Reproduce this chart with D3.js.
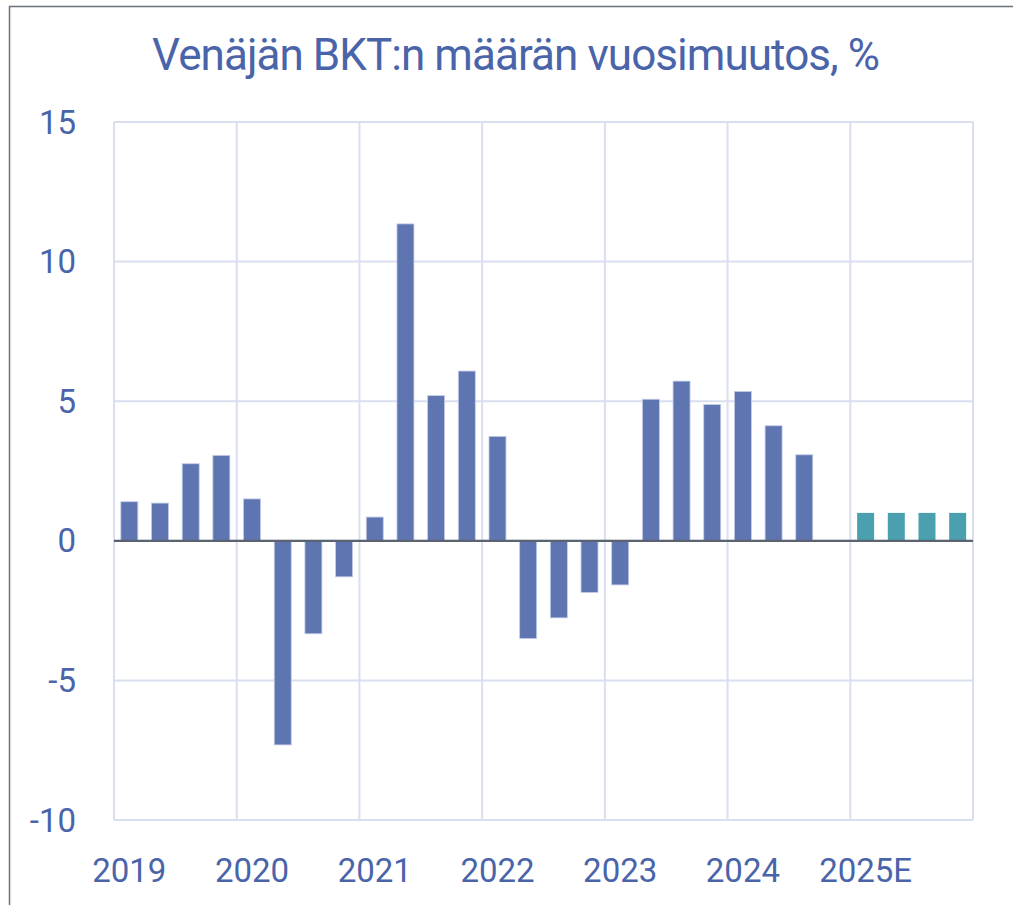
<!DOCTYPE html>
<html>
<head>
<meta charset="utf-8">
<script src="https://cdn.jsdelivr.net/npm/d3@7"></script>
<style>
  html, body { margin: 0; padding: 0; background: #fff; }
  svg { display: block; }
  text { font-family: Roboto, "Liberation Sans", sans-serif; fill: #4a64aa; }
</style>
</head>
<body>
<div id="chart"></div>
<script>
// Data
const title = "Venäjän BKT:n määrän vuosimuutos, %";
const years = ["2019", "2020", "2021", "2022", "2023", "2024", "2025E"];
const quarters = ["Q1", "Q2", "Q3", "Q4"];
const actualValues = [
  1.4, 1.35, 2.76, 3.06,
  1.5, -7.31, -3.33, -1.29,
  0.85, 11.35, 5.2, 6.08,
  3.74, -3.5, -2.76, -1.85,
  -1.58, 5.07, 5.72, 4.88,
  5.35, 4.12, 3.08, null
];
const forecastValues = [1, 1, 1, 1];
const yTicks = [-10, -5, 0, 5, 10, 15];

const w = 1013;
const h = 905;
const margin = { left: 114, right: 40, top: 122, bottom: 85 };

// one key per quarter
const keys = years.flatMap((y) => quarters.map((q) => y + "-" + q));
const bars = keys.map((k, i) => {
  const isForecast = i >= actualValues.length;
  return {
    key: k,
    value: isForecast ? forecastValues[i - actualValues.length] : actualValues[i],
    forecast: isForecast
  };
}).filter((d) => d.value != null);

const svg = d3.select("#chart").append("svg").attr("width", w).attr("height", h);

// Frame (right and bottom edges fall outside the picture)
svg.append("rect")
  .attr("x", 9.5).attr("y", 6.5)
  .attr("width", 1020).attr("height", 920)
  .attr("fill", "none")
  .attr("stroke", "#6b7280")
  .attr("stroke-width", 1.5);

// Scales
const xScale = d3.scaleBand()
  .domain(keys)
  .range([margin.left, w - margin.right])
  .paddingInner(0.446)
  .paddingOuter(0.223);

const yearScale = d3.scaleBand()
  .domain(years)
  .range([margin.left, w - margin.right]);

const yScale = d3.scaleLinear()
  .domain([-10, 15])
  .range([h - margin.bottom, margin.top]);

const gridColor = "#d9dff0";

// Horizontal grid
svg.append("g")
  .selectAll("line")
  .data(yTicks)
  .join("line")
  .attr("x1", margin.left).attr("x2", w - margin.right)
  .attr("y1", (d) => yScale(d)).attr("y2", (d) => yScale(d))
  .attr("stroke", gridColor)
  .attr("stroke-width", 2);

// Vertical grid at year boundaries
const yearEdges = years.map((y) => yearScale(y)).concat([w - margin.right]);
svg.append("g")
  .selectAll("line")
  .data(yearEdges)
  .join("line")
  .attr("x1", (d) => d).attr("x2", (d) => d)
  .attr("y1", yScale(15)).attr("y2", yScale(-10))
  .attr("stroke", gridColor)
  .attr("stroke-width", 2);

// Bars
svg.append("g")
  .selectAll("rect")
  .data(bars)
  .join("rect")
  .attr("x", (d) => xScale(d.key))
  .attr("y", (d) => yScale(Math.max(0, d.value)))
  .attr("width", xScale.bandwidth())
  .attr("height", (d) => Math.abs(yScale(d.value) - yScale(0)))
  .attr("fill", (d) => (d.forecast ? "#4aa0ae" : "#5e75b1"))
  .attr("stroke", (d) => (d.forecast ? "none" : "#c3cde8"))
  .attr("stroke-width", 0.8);

// Zero line
svg.append("line")
  .attr("x1", margin.left).attr("x2", w - margin.right)
  .attr("y1", yScale(0)).attr("y2", yScale(0))
  .attr("stroke", "#5b6370")
  .attr("stroke-width", 2.2);

// Y axis labels
svg.append("g")
  .selectAll("text")
  .data(yTicks)
  .join("text")
  .attr("x", 76)
  .attr("y", (d) => yScale(d))
  .attr("dy", "0.35em")
  .attr("text-anchor", "end")
  .attr("font-size", 33)
  .text((d) => d);

// X axis labels: under the first quarter of each year
svg.append("g")
  .selectAll("text")
  .data(years)
  .join("text")
  .attr("x", (d) => xScale(d + "-Q1") + xScale.bandwidth() / 2)
  .attr("y", 882)
  .attr("text-anchor", "middle")
  .attr("font-size", 33)
  .text((d) => d);

// Title
svg.append("text")
  .attr("x", 516)
  .attr("y", 70)
  .attr("text-anchor", "middle")
  .attr("font-size", 44)
  .attr("textLength", 728)
  .attr("lengthAdjust", "spacing")
  .text(title);
</script>
</body>
</html>
